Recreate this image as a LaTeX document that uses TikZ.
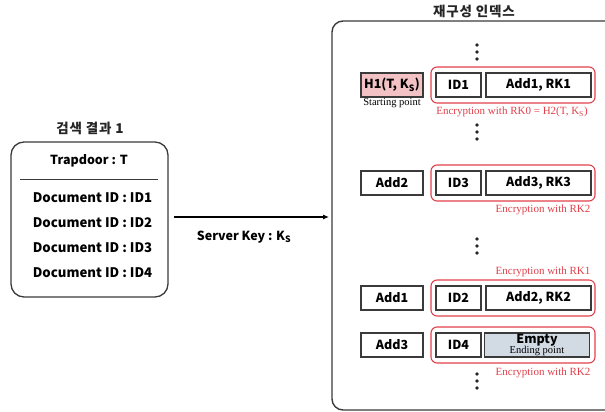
\documentclass[tikz,border=0pt]{standalone}
\usepackage{fontspec}
\setmainfont{Liberation Serif}
\newfontfamily\kr{Noto Sans CJK KR}
\newfontfamily\krtitle[LetterSpace=6]{Noto Sans CJK KR}
\usetikzlibrary{arrows.meta}
\definecolor{encred}{HTML}{E0404A}
\definecolor{startfill}{HTML}{F2C2C4}
\definecolor{endfill}{HTML}{D2DAE4}
\definecolor{frame}{HTML}{3A3A3A}
\tikzset{
  cell/.style={draw=frame, line width=1.2pt, inner sep=0pt, minimum height=24pt,
    font=\kr\bfseries\fontsize{12.5}{14}\selectfont},
  keycell/.style={cell, minimum width=62pt},
  idcell/.style={cell, minimum width=45pt},
  valcell/.style={cell, minimum width=105pt},
  encframe/.style={draw=encred, line width=1.1pt, rounded corners=6pt,
    minimum width=164pt, minimum height=36pt, inner sep=0pt},
  enctext/.style={text=encred, font=\fontsize{11}{12}\selectfont, inner sep=0pt},
  note/.style={font=\fontsize{10.5}{11}\selectfont, inner sep=0pt},
  sanslabel/.style={font=\kr\bfseries\fontsize{12.5}{14}\selectfont, inner sep=0pt},
  doclabel/.style={font=\kr\bfseries\fontsize{13.2}{15}\selectfont, inner sep=0pt},
  title/.style={font=\krtitle\bfseries\fontsize{13.5}{16}\selectfont, text=black!85, inner sep=0pt},
  vdot/.style={circle, fill=black!85, inner sep=0pt, minimum size=3.8pt},
}
\newcommand{\Ks}{K\textsubscript{S}}
% three stacked dots marking omitted rows
\newcommand{\dotcol}[3]{%
  \node[vdot] (#3a) at (#1,#2-7) {};
  \node[vdot] (#3b) at (#1,#2) {};
  \node[vdot] (#3c) at (#1,#2+7) {};}
\begin{document}
\begin{tikzpicture}[x=1pt,y=-1pt]
\useasboundingbox (0,0) rectangle (605,412);

% ---- search result (left) ----
\node[title] (lt) at (90,128) {검색 결과 1};
\draw[frame, line width=1.3pt, rounded corners=13pt] (11,142) rectangle (168,297);
\node[sanslabel] (trap) at (89,161) {Trapdoor : T};
\draw[frame, line width=1pt] (20,179) -- (158,179);
\node[doclabel] (doc1) at (92.5,198) {Document ID : ID1};
\node[doclabel] (doc2) at (92.5,223) {Document ID : ID2};
\node[doclabel] (doc3) at (92.5,248) {Document ID : ID3};
\node[doclabel] (doc4) at (92.5,273) {Document ID : ID4};

% ---- server key arrow ----
\coordinate (arrS) at (174,217);
\coordinate (arrE) at (329,217);
\draw[black, line width=1.1pt, -{Latex[length=6pt,width=5pt]}] (arrS) -- (arrE);
\node[sanslabel] (skey) at (244,237) {Server Key : \Ks};

% ---- reconstructed index (right) ----
\node[title] (rt) at (474,11) {재구성 인덱스};
\draw[frame, line width=1.4pt, rounded corners=11pt]
  (610,21) -- (332,21) -- (332,410) -- (610,410);

% row 1 : starting point
\node[keycell, fill=startfill] (h1) at (392,85) {H1(T, \Ks)};
\node[note] (sp) at (392,103) {Starting point};
\node[encframe] (e1) at (513,85) {};
\node[idcell] (id1) at (458.5,85) {ID1};
\node[valcell] (v1) at (538.5,85) {Add1, RK1};
\node[enctext] (t1) at (512,112) {Encryption with RK0 = H2(T, \Ks)};

% row 2
\node[keycell] (a2) at (392,183) {Add2};
\node[encframe] (e2) at (513,183) {};
\node[idcell] (id3) at (458.5,183) {ID3};
\node[valcell] (v3) at (538.5,183) {Add3, RK3};
\node[enctext] (t2) at (543,210) {Encryption with RK2};

% row 3
\node[enctext] (t3) at (543,272) {Encryption with RK1};
\node[keycell] (a1) at (392,298) {Add1};
\node[encframe] (e3) at (513,298) {};
\node[idcell] (id2) at (458.5,298) {ID2};
\node[valcell] (v2) at (538.5,298) {Add2, RK2};

% row 4 : ending point
\node[keycell] (a3) at (392,345) {Add3};
\node[encframe] (e4) at (513,345) {};
\node[idcell] (id4) at (458.5,345) {ID4};
\node[valcell, fill=endfill, align=center] (v4) at (537,345)
  {Empty\\[-4pt]{\mdseries\rmfamily\fontsize{10.5}{11}\selectfont Ending point}};
\node[enctext] (t4) at (543,373) {Encryption with RK2};

% continuation marks
\dotcol{477}{52}{dA}
\dotcol{477}{132}{dB}
\dotcol{477}{246}{dC}
\dotcol{477}{381}{dD}
\end{tikzpicture}
\end{document}
